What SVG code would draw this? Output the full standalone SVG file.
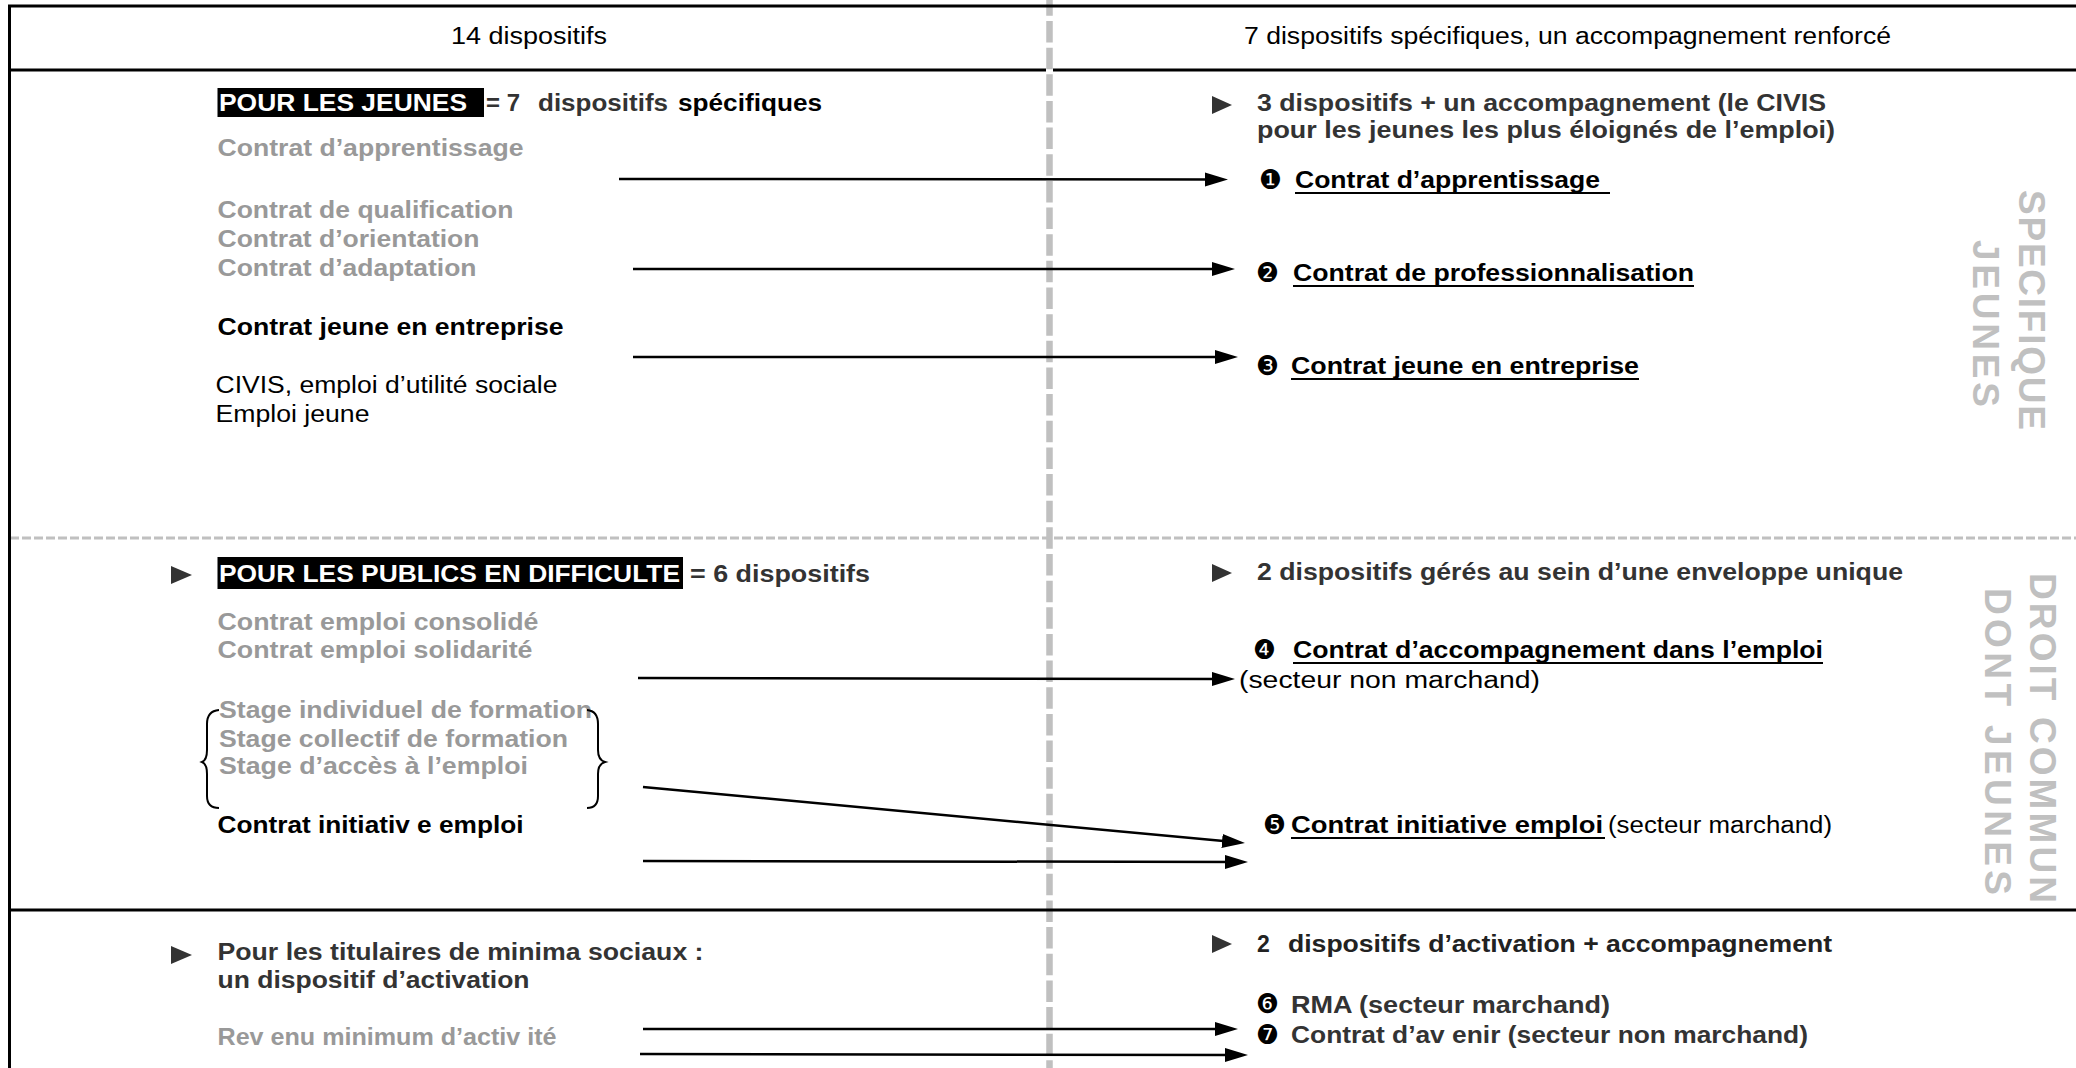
<svg xmlns="http://www.w3.org/2000/svg" width="2076" height="1068" viewBox="0 0 2076 1068">
<style>
.t{font-family:'Liberation Sans',Arial,sans-serif;font-size:23px}
.b{font-weight:bold}
.g{fill:#999999}
.d{fill:#333333}
.k{fill:#000000}
.w{fill:#ffffff}
.n{font-family:'DejaVu Sans',sans-serif;font-size:27px;fill:#000}
.r{font-family:'Liberation Sans',Arial,sans-serif;font-weight:bold;font-size:37px;fill:#c0c0c0}
.frame{stroke:#000;stroke-width:3;fill:none}
.ul{stroke:#000;stroke-width:2}
.conn{stroke:#000;stroke-width:2.5;fill:none;marker-end:url(#ah)}
.bul{fill:#333}
</style>
<defs>
<marker id="ah" markerUnits="userSpaceOnUse" markerWidth="24" markerHeight="16" refX="15" refY="7" orient="auto">
<path d="M0,0 L23,7 L0,14 Z" fill="#000"/>
</marker>
</defs>
<rect width="2076" height="1068" fill="#fff"/>

<g id="grid">
<line x1="1049.5" y1="0" x2="1049.5" y2="1068" stroke="#c0c0c0" stroke-width="6.5" stroke-dasharray="21.5 5.15" stroke-dashoffset="5.65"/>
<line x1="10" y1="538" x2="2076" y2="538" stroke="#c0c0c0" stroke-width="3" stroke-dasharray="9 3"/>
<line class="frame" x1="8" y1="6" x2="2076" y2="6"/>
<line class="frame" x1="9.5" y1="5" x2="9.5" y2="1068"/>
<line class="frame" x1="8" y1="70" x2="1046" y2="70"/>
<line class="frame" x1="1053" y1="70" x2="2076" y2="70"/>
<line class="frame" x1="8" y1="910" x2="2076" y2="910"/>
</g>

<g id="header-left"><text class="t k" x="451" y="44" textLength="156" lengthAdjust="spacingAndGlyphs">14 dispositifs</text></g>
<g id="header-right"><text class="t k" x="1244" y="44" textLength="647" lengthAdjust="spacingAndGlyphs">7 dispositifs spécifiques, un accompagnement renforcé</text></g>

<g id="side-jeunes">
<text class="r" transform="translate(2019,190) rotate(90)" textLength="240">SPECIFIQUE</text>
<text class="r" transform="translate(1973,240) rotate(90)" textLength="167">JEUNES</text>
</g>
<g id="side-droit">
<text class="r" transform="translate(2030,573) rotate(90)" textLength="330">DROIT COMMUN</text>
<text class="r" transform="translate(1985,588) rotate(90)" textLength="307">DONT JEUNES</text>
</g>

<g id="jeunes-title">
<rect x="217.5" y="88" width="266.5" height="29" fill="#000"/>
<text class="t b w" x="219" y="111" textLength="248" lengthAdjust="spacingAndGlyphs">POUR LES JEUNES</text>
<text class="t b d" y="111"><tspan x="486" textLength="34" lengthAdjust="spacingAndGlyphs">= 7</tspan><tspan x="538" textLength="130" lengthAdjust="spacingAndGlyphs">dispositifs</tspan><tspan class="k" x="678" textLength="144" lengthAdjust="spacingAndGlyphs">spécifiques</tspan></text>
</g>
<g id="old-apprentissage"><text class="t b g" x="217.5" y="156" textLength="306" lengthAdjust="spacingAndGlyphs">Contrat d’apprentissage</text></g>
<g id="old-qualif">
<text class="t b g" x="217.5" y="218" textLength="296" lengthAdjust="spacingAndGlyphs">Contrat de qualification</text>
<text class="t b g" x="217.5" y="247" textLength="262" lengthAdjust="spacingAndGlyphs">Contrat d’orientation</text>
<text class="t b g" x="217.5" y="276" textLength="259" lengthAdjust="spacingAndGlyphs">Contrat d’adaptation</text>
</g>
<g id="old-cje"><text class="t b k" x="217.5" y="335" textLength="346" lengthAdjust="spacingAndGlyphs">Contrat jeune en entreprise</text></g>
<g id="old-civis">
<text class="t k" x="215.5" y="393" textLength="342" lengthAdjust="spacingAndGlyphs">CIVIS, emploi d’utilité sociale</text>
<text class="t k" x="215.5" y="422" textLength="154" lengthAdjust="spacingAndGlyphs">Emploi jeune</text>
</g>

<g id="difficulte-title">
<polygon class="bul" points="171,566 192,575 171,584"/>
<rect x="217.5" y="557" width="465.5" height="32" fill="#000"/>
<text class="t b w" x="219" y="582" textLength="461" lengthAdjust="spacingAndGlyphs">POUR LES PUBLICS EN DIFFICULTE</text>
<text class="t b d" x="690" y="582" textLength="180" lengthAdjust="spacingAndGlyphs">= 6 dispositifs</text>
</g>
<g id="old-ce">
<text class="t b g" x="217.5" y="630" textLength="321" lengthAdjust="spacingAndGlyphs">Contrat emploi consolidé</text>
<text class="t b g" x="217.5" y="658" textLength="315" lengthAdjust="spacingAndGlyphs">Contrat emploi solidarité</text>
</g>
<g id="old-stages">
<text class="t b g" x="219" y="718" textLength="373" lengthAdjust="spacingAndGlyphs">Stage individuel de formation</text>
<text class="t b g" x="219" y="747" textLength="349" lengthAdjust="spacingAndGlyphs">Stage collectif de formation</text>
<text class="t b g" x="219" y="774" textLength="309" lengthAdjust="spacingAndGlyphs">Stage d’accès à l’emploi</text>
<path d="M219,710 Q207,711 207,724 L207,750 Q207,760 202,762 Q207,764 207,774 L207,796 Q207,808 219,808" fill="none" stroke="#000" stroke-width="2"/>
<path d="M587,710 Q598,711 598,724 L598,750 Q598,760 605,762 Q598,764 598,774 L598,796 Q598,808 587,808" fill="none" stroke="#000" stroke-width="2"/>
</g>
<g id="old-cie"><text class="t b k" x="217.5" y="833" textLength="306" lengthAdjust="spacingAndGlyphs">Contrat initiativ e emploi</text></g>

<g id="minima-title">
<polygon class="bul" points="171,946 192,955 171,964"/>
<text class="t b d" x="217.5" y="960" textLength="486" lengthAdjust="spacingAndGlyphs">Pour les titulaires de minima sociaux :</text>
<text class="t b d" x="217.5" y="988" textLength="312" lengthAdjust="spacingAndGlyphs">un dispositif d’activation</text>
</g>
<g id="old-rma"><text class="t b g" x="217.5" y="1045" textLength="339" lengthAdjust="spacingAndGlyphs">Rev enu minimum d’activ ité</text></g>

<g id="new-jeunes-title">
<polygon class="bul" points="1212,96 1232,105 1212,114"/>
<text class="t b d" x="1257" y="111" textLength="569" lengthAdjust="spacingAndGlyphs">3 dispositifs + un accompagnement (le CIVIS</text>
<text class="t b d" x="1257" y="138" textLength="578" lengthAdjust="spacingAndGlyphs">pour les jeunes les plus éloignés de l’emploi)</text>
</g>
<g id="new-1">
<text class="n" x="1259" y="189" textLength="23" lengthAdjust="spacingAndGlyphs">❶</text>
<text class="t b k" x="1295" y="188" textLength="305" lengthAdjust="spacingAndGlyphs">Contrat d’apprentissage</text>
<line class="ul" x1="1295" y1="193" x2="1610" y2="193"/>
</g>
<g id="new-2">
<text class="n" x="1256" y="282" textLength="23" lengthAdjust="spacingAndGlyphs">❷</text>
<text class="t b k" x="1293" y="281" textLength="401" lengthAdjust="spacingAndGlyphs">Contrat de professionnalisation</text>
<line class="ul" x1="1293" y1="286" x2="1694" y2="286"/>
</g>
<g id="new-3">
<text class="n" x="1256" y="375" textLength="23" lengthAdjust="spacingAndGlyphs">❸</text>
<text class="t b k" x="1291" y="374" textLength="348" lengthAdjust="spacingAndGlyphs">Contrat jeune en entreprise</text>
<line class="ul" x1="1291" y1="379" x2="1639" y2="379"/>
</g>

<g id="new-difficulte-title">
<polygon class="bul" points="1212,564 1232,573 1212,582"/>
<text class="t b d" x="1257" y="580" textLength="646" lengthAdjust="spacingAndGlyphs">2 dispositifs gérés au sein d’une enveloppe unique</text>
</g>
<g id="new-4">
<text class="n" x="1253" y="659" textLength="23" lengthAdjust="spacingAndGlyphs">❹</text>
<text class="t b k" x="1293" y="658" textLength="530" lengthAdjust="spacingAndGlyphs">Contrat d’accompagnement dans l’emploi</text>
<line class="ul" x1="1293" y1="663" x2="1823" y2="663"/>
<text class="t k" x="1239" y="688" textLength="301" lengthAdjust="spacingAndGlyphs">(secteur non marchand)</text>
</g>
<g id="new-5">
<text class="n" x="1263" y="834" textLength="23" lengthAdjust="spacingAndGlyphs">❺</text>
<text class="t b k" x="1291" y="833" textLength="312" lengthAdjust="spacingAndGlyphs">Contrat initiative emploi</text>
<line class="ul" x1="1291" y1="838" x2="1605" y2="838"/>
<text class="t k" x="1608" y="833" textLength="224" lengthAdjust="spacingAndGlyphs">(secteur marchand)</text>
</g>

<g id="new-minima-title">
<polygon class="bul" points="1212,935 1232,944 1212,953"/>
<text class="t b" y="952" fill="#222"><tspan x="1257">2</tspan><tspan x="1288" textLength="544" lengthAdjust="spacingAndGlyphs">dispositifs d’activation + accompagnement</tspan></text>
</g>
<g id="new-6">
<text class="n" x="1256" y="1013" textLength="23" lengthAdjust="spacingAndGlyphs">❻</text>
<text class="t b d" x="1291" y="1013" textLength="319" lengthAdjust="spacingAndGlyphs">RMA (secteur marchand)</text>
</g>
<g id="new-7">
<text class="n" x="1256" y="1044" textLength="23" lengthAdjust="spacingAndGlyphs">❼</text>
<text class="t b d" x="1291" y="1043" textLength="517" lengthAdjust="spacingAndGlyphs">Contrat d’av enir (secteur non marchand)</text>
</g>

<g id="connectors">
<line class="conn" x1="619" y1="179" x2="1220" y2="179.5"/>
<line class="conn" x1="633" y1="269" x2="1227" y2="269"/>
<line class="conn" x1="633" y1="357" x2="1230" y2="357"/>
<line class="conn" x1="638" y1="678" x2="1227" y2="679"/>
<line class="conn" x1="643" y1="787" x2="1237" y2="842.3"/>
<line class="conn" x1="643" y1="861" x2="1240" y2="862"/>
<line class="conn" x1="643" y1="1029" x2="1230" y2="1029"/>
<line class="conn" x1="640" y1="1054" x2="1240" y2="1055"/>
</g>
</svg>
